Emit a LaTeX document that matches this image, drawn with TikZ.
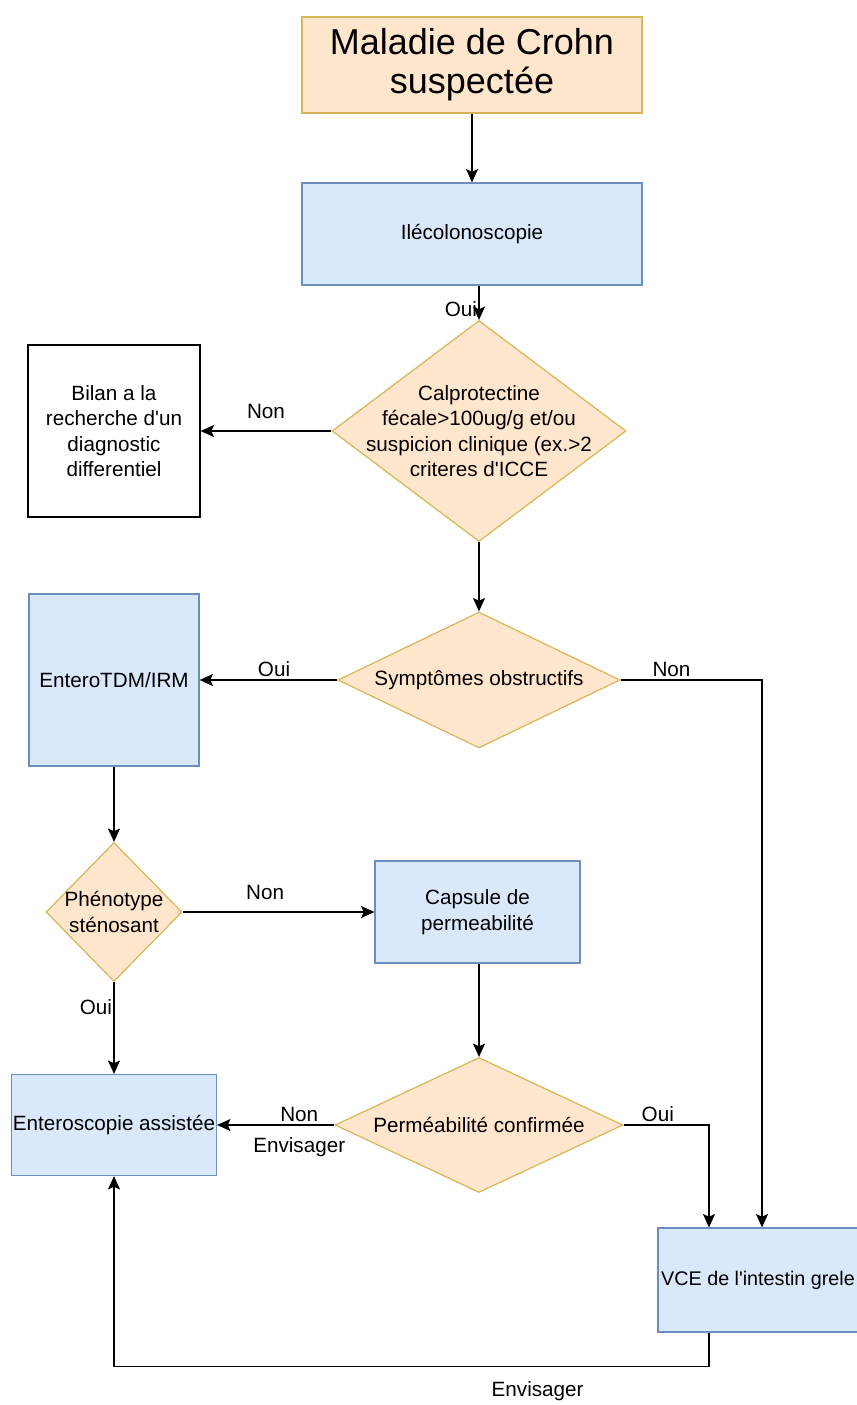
\documentclass[tikz,border=0pt]{standalone}
\usepackage{fontspec}
\setmainfont{Liberation Sans}
\usetikzlibrary{arrows.meta,shapes.geometric}
\definecolor{peach}{HTML}{FFE6CC}
\definecolor{gold}{HTML}{D6B656}
\definecolor{skyfill}{HTML}{DAE8FC}
\definecolor{skyline}{HTML}{6C8EBF}

\begin{document}
\begin{tikzpicture}[x=0.75pt,y=-0.75pt,line width=0.9pt,
  font=\fontsize{15.5}{19}\selectfont,
  entry/.style={draw=gold,fill=peach,align=center,inner sep=0pt},
  exam/.style={draw=skyline,fill=skyfill,align=center,inner sep=0pt,minimum width=153.75pt,minimum height=76.5pt},
  choice/.style={diamond,draw=gold,fill=peach,inner sep=0pt,label={[align=center]center:{#1}}},
  other/.style={draw,align=center,inner sep=0pt},
  lbl/.style={inner sep=1pt},
  arr/.style={line width=1.1pt,-{Stealth[length=10pt,width=9pt,inset=2pt]}}]
\useasboundingbox (0,0) rectangle (856,1405);
\node[entry,minimum width=255pt,minimum height=72pt,font=\fontsize{27}{29}\selectfont] (crohn) at (472,65) {Maladie de Crohn\\suspectée};
\node[exam,minimum width=255pt] (ileo) at (472,234) {Ilécolonoscopie};
\node[choice={Calprotectine\\fécale>100ug/g et/ou\\suspicion clinique (ex.>2\\criteres d\textquotesingle ICCE},minimum width=220.5pt,minimum height=165.75pt] (calpro) at (479,431) {};
\node[other,minimum width=129pt,minimum height=129pt] (bilan) at (114,431) {Bilan a la\\recherche d\textquotesingle un\\diagnostic\\differentiel};
\node[choice={Symptômes obstructifs},minimum width=211.5pt,minimum height=102pt] (obstr) at (479,680) {};
\node[exam,minimum width=127.5pt,minimum height=129pt] (entero) at (114,680) {EnteroTDM/IRM};
\node[choice={Phénotype\\sténosant},minimum width=102pt,minimum height=104.25pt] (steno) at (114,912) {};
\node[exam] (capsule) at (477.5,912) {Capsule de\\permeabilité};
\node[choice={Perméabilité confirmée},minimum width=216pt,minimum height=101.25pt] (perm) at (479,1125) {};
\node[exam,minimum height=75.75pt] (endo) at (114,1125) {Enteroscopie assistée};
\node[exam,minimum width=150pt,minimum height=78pt,font=\fontsize{14.8}{18}\selectfont] (vce) at (758,1280) {VCE de l\textquotesingle intestin grele};
% liaisons
\draw[arr] (crohn) -- (ileo);
\draw[arr] (ileo.south -| calpro.north) -- node[lbl,left,pos=0.7] (oui1) {Oui} (calpro.north);
\draw[arr] (calpro.west) -- node[lbl,above=8pt] (non1) {Non} (bilan.east);
\draw[arr] (calpro.south) -- (obstr.north);
\draw[arr] (obstr.west) -- node[lbl,above=1pt,pos=0.46] (oui2) {Oui} (entero.east);
\draw[arr] (obstr.east) -| node[lbl,above=1pt,pos=0.18] (non2) {Non} ([xshift=3pt]vce.north);
\draw[arr] (entero) -- (steno);
\draw[arr] (steno.east) -- node[lbl,above=8pt,pos=0.43] (non3) {Non} (capsule.west);
\draw[arr] (capsule.south -| perm.north) -- (perm.north);
\draw[arr] (steno.south) -- node[lbl,left,pos=0.27] (oui4) {Oui} (endo.north);
\draw[arr] (perm.west) -- node[lbl,above=1pt,pos=0.3] (non4) {Non} node[lbl,below=8pt,pos=0.3] (env1) {Envisager} (endo.east);
\draw[arr] (perm.east) -| node[lbl,above=1pt,pos=0.2] (oui5) {Oui} ([xshift=-36.75pt]vce.north);
\draw[arr] ([xshift=-36.75pt]vce.south) -- ++(0,34) -| node[lbl,below=10pt,pos=0.144] (env2) {Envisager} (endo.south);
\end{tikzpicture}
\end{document}
